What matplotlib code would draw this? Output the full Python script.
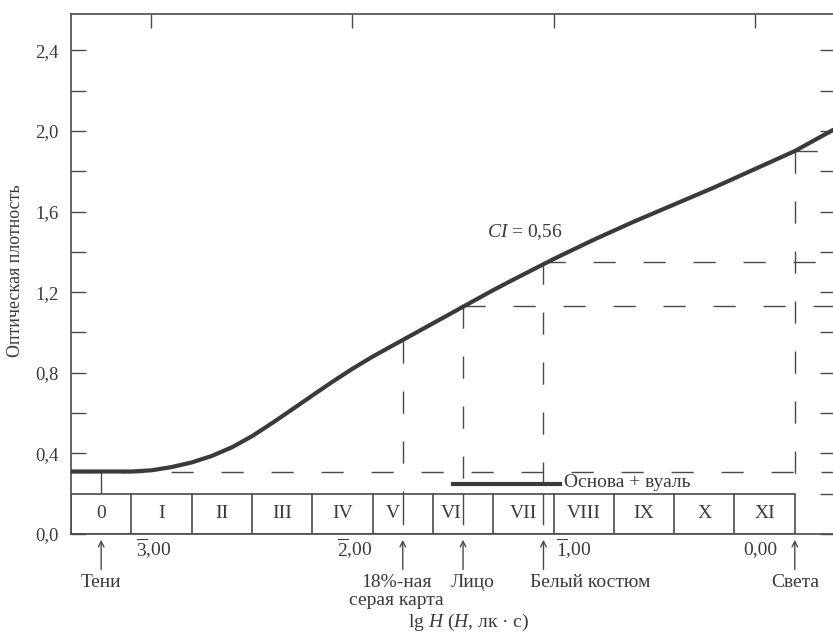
import matplotlib
matplotlib.use("Agg")
import matplotlib.pyplot as plt
from matplotlib.patches import Rectangle

plt.rcParams['font.family'] = ['Liberation Serif', 'DejaVu Serif']
plt.rcParams['mathtext.fontset'] = 'custom'
plt.rcParams['mathtext.rm'] = 'Liberation Serif'
plt.rcParams['mathtext.it'] = 'Liberation Serif:italic'

# ---- data ----
curve_x = [-3.40, -3.10, -3.00, -2.90, -2.80, -2.70, -2.60, -2.50, -2.40, -2.30,
           -2.20, -2.10, -2.00, -1.90, -1.80, -1.70, -1.60, -1.50, -1.40, -1.30,
           -1.20, -1.10, -1.00, -0.80, -0.60, -0.40, -0.20, 0.00, 0.20, 0.30, 0.40]
curve_y = [0.31, 0.31, 0.316, 0.332, 0.355, 0.387, 0.43, 0.485, 0.55, 0.618,
           0.687, 0.755, 0.82, 0.88, 0.935, 0.99, 1.045, 1.10, 1.155, 1.21,
           1.262, 1.313, 1.364, 1.46, 1.55, 1.635, 1.72, 1.81, 1.90, 1.955, 2.01]
base_fog = 0.31

zone_edges = [-3.4, -3.1, -2.8, -2.5, -2.2, -1.9, -1.6, -1.3, -1.0, -0.7, -0.4, -0.1, 0.2]
zone_labels = ["0", "I", "II", "III", "IV", "V", "VI", "VII", "VIII", "IX", "X", "XI"]
zone_height = 0.2

marker_x = [-3.25, -1.75, -1.45, -1.05, 0.20]
marker_y = [0.31, 0.96, 1.13, 1.35, 1.90]
marker_names = ["Тени", "18%-ная\nсерая карта", "Лицо", "Белый костюм", "Света"]
marker_text_x = [-3.25, -1.78, -1.40, -0.82, 0.20]

xtick_vals = [-3, -2, -1, 0]
xtick_labels = [r"$\overline{\mathrm{3}}$,00", r"$\overline{\mathrm{2}}$,00",
                r"$\overline{\mathrm{1}}$,00", "0,00"]
xtick_label_x = [-2.99, -1.99, -0.90, 0.03]

ytick_vals = [0.0, 0.2, 0.4, 0.6, 0.8, 1.0, 1.2, 1.4, 1.6, 1.8, 2.0, 2.2, 2.4]
ytick_labels = ["0,0", "", "0,4", "", "0,8", "", "1,2", "", "1,6", "", "2,0", "", "2,4"]

ci_text = r"$\it{CI}$ = 0,56"
legend_text = "Основа + вуаль"
xlabel_text = r"lg $\it{H}$ ($\it{H}$, лк · с)"
ylabel_text = "Оптическая плотность"

# ---- style ----
W, H = 833, 632
txt_c = "#3a3a3a"
line_c = "#4a4a4a"
fs = 14

fig = plt.figure(figsize=(W / 100, H / 100), dpi=100)
ax = fig.add_axes([71 / W, (632 - 534) / H, (835 - 71) / W, (534 - 14) / H])
ax.set_xlim(-3.4, 0.4)
ax.set_ylim(0, 2.58)

for s in ax.spines.values():
    s.set_color(line_c)
    s.set_linewidth(1.2)

ax.set_yticks(ytick_vals)
ax.set_yticklabels(ytick_labels, fontsize=13.5, color=txt_c)
ax.tick_params(axis='y', which='both', direction='in', length=11, width=1.0,
               color=line_c, left=True, right=True, pad=9)
ax.set_xticks(xtick_vals)
ax.set_xticklabels([])
ax.tick_params(axis='x', which='both', direction='in', length=10, width=1.0,
               color=line_c, top=True, bottom=True)

# dashed guide lines (drawn starting from the curve)
dash = (0, (16, 20))
ax.plot([-3.4, 0.4], [base_fog, base_fog], color=line_c, lw=1.0, ls=dash)
for mx, my in zip(marker_x[2:], marker_y[2:]):
    ax.plot([mx, 0.4], [my, my], color=line_c, lw=1.0, ls=dash)
ax.plot([marker_x[0], marker_x[0]], [marker_y[0], zone_height], color=line_c, lw=1.0)
for mx, my in zip(marker_x[1:4], marker_y[1:4]):
    ax.plot([mx, mx], [my, 0], color=line_c, lw=1.0, ls=dash)
ax.plot([marker_x[4], marker_x[4]], [marker_y[4], zone_height], color=line_c, lw=1.0, ls=dash)

# zone strip
ax.add_patch(Rectangle((zone_edges[0], 0), zone_edges[-1] - zone_edges[0], zone_height,
                       facecolor='white', edgecolor=line_c, lw=1.2, zorder=2))
for e in zone_edges[1:-1]:
    ax.plot([e, e], [0, zone_height], color=line_c, lw=1.2, zorder=3)
label_shift = {"V": -0.05, "VI": -0.06}
for i, lab in enumerate(zone_labels):
    cx = (zone_edges[i] + zone_edges[i + 1]) / 2 + label_shift.get(lab, 0.0)
    ax.text(cx, zone_height / 2, lab, ha='center', va='center', fontsize=fs,
            color=txt_c, zorder=4)
for mx in marker_x[1:4]:
    ax.plot([mx, mx], [0.05, zone_height], color=line_c, lw=1.0, zorder=4)

# curve
ax.plot(curve_x, curve_y, color="#3a3a3a", lw=3.0, solid_capstyle='butt',
        solid_joinstyle='round', zorder=5)

# base + fog legend
ax.plot([-1.5, -0.97], [0.25, 0.25], color="#3a3a3a", lw=3.0, zorder=5)
ax.text(-0.95, 0.255, legend_text, fontsize=fs, color=txt_c, va='center', ha='left')

ax.text(-1.33, 1.50, ci_text, fontsize=fs, color=txt_c, va='center', ha='left')

# bottom annotations
for xv, lab in zip(xtick_label_x, xtick_labels):
    ax.text(xv, -0.075, lab, fontsize=fs, color=txt_c, ha='center', va='center', clip_on=False)
for mx in marker_x:
    ax.annotate("", xy=(mx, -0.015), xytext=(mx, -0.19),
                arrowprops=dict(arrowstyle='->', color=line_c, lw=1.0,
                                mutation_scale=10), annotation_clip=False)
for tx, lab in zip(marker_text_x, marker_names):
    ax.text(tx, -0.2, lab, fontsize=fs, color=txt_c, ha='center', va='top',
            clip_on=False, linespacing=1.05)

fig.text(469 / W, 1 - 622 / H, xlabel_text, fontsize=fs, color=txt_c, ha='center', va='center')
fig.text(16 / W, 1 - 271 / H, ylabel_text, fontsize=13, color=txt_c,
         ha='center', va='center', rotation=90)

fig.savefig("out.png", dpi=100)
